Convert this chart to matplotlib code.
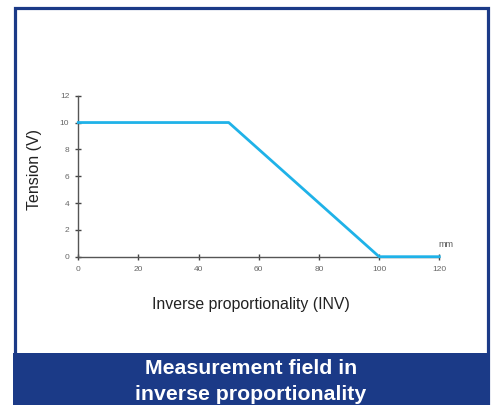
import matplotlib
matplotlib.use("Agg")
import matplotlib.pyplot as plt
from matplotlib.patches import Rectangle

plt.rcParams['font.family'] = ['Liberation Sans', 'DejaVu Sans']

# curve: distance (mm) vs output tension (V)
dist_mm = [0, 50, 100, 120]
tension_v = [10, 10, 0, 0]
x_ticks = [0, 20, 40, 60, 80, 100, 120]
y_ticks = [0, 2, 4, 6, 8, 10, 12]

blue = '#1b3a87'
fig = plt.figure(figsize=(4.93, 4.05), dpi=100)

# outer frame and bottom banner
fig.patches.append(Rectangle((14.5 / 493, 0), (488 - 14.5) / 493, 1 - 7.5 / 405,
                             transform=fig.transFigure, fill=False,
                             edgecolor=blue, linewidth=2.3))
fig.patches.append(Rectangle((13 / 493, 0), (489 - 13) / 493, 52 / 405,
                             transform=fig.transFigure, facecolor=blue,
                             edgecolor='none'))
fig.text(251 / 493, 1 - 369 / 405, 'Measurement field in', color='white',
         fontsize=15.3, fontweight='bold', ha='center', va='center')
fig.text(251 / 493, 1 - 394.5 / 405, 'inverse proportionality', color='white',
         fontsize=15.3, fontweight='bold', ha='center', va='center')

ax = fig.add_axes([78.3 / 493, 1 - 256.7 / 405, 361 / 493, 161 / 405])
ax.plot(dist_mm, tension_v, color='#1fb2e8', linewidth=2, clip_on=False, zorder=3)
ax.set_xlim(0, 120)
ax.set_ylim(0, 12)
ax.set_xticks(x_ticks)
ax.set_yticks(y_ticks)
for s in ['top', 'right']:
    ax.spines[s].set_visible(False)
for s in ['left', 'bottom']:
    ax.spines[s].set_color('#555555')
    ax.spines[s].set_linewidth(1)
ax.tick_params(direction='inout', length=5, width=1, color='#444444',
               labelsize=6, labelcolor='#666666', pad=4)

fig.text(35 / 493, 1 - 169 / 405, 'Tension (V)', fontsize=11.5, color='#222222',
         rotation=90, ha='center', va='center')
fig.text(251 / 493, 1 - 305 / 405, 'Inverse proportionality (INV)', fontsize=11.4,
         color='#222222', ha='center', va='center')
ax.text(122.3, 0.6, 'mm', fontsize=6.5, color='#555555', ha='center', va='bottom')

fig.savefig('out.png', dpi=100)
